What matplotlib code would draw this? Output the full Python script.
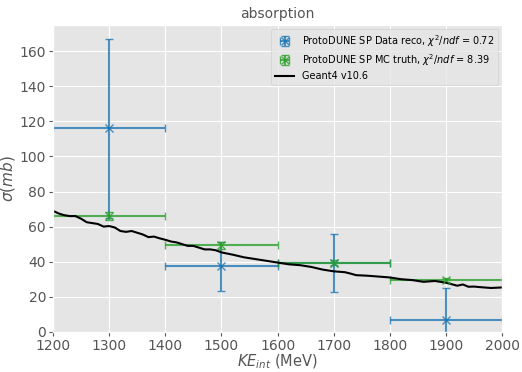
import numpy as np
import matplotlib
matplotlib.use("Agg")
import matplotlib.pyplot as plt

plt.style.use("ggplot")

# Measured cross section bins (MeV, mb)
ke_centers = [1300, 1500, 1700, 1900]
ke_halfwidth = [100, 100, 100, 100]

data_xs = [116, 37.5, 39, 7]
data_err = [51, 14, 16.5, 18]

mc_xs = [66, 49.5, 39.5, 29.5]
mc_err = [2.5, 2, 1.5, 1]

# Geant4 prediction
g4_ke = [1200, 1210, 1220, 1230, 1240, 1250, 1260, 1270, 1280, 1290, 1300,
         1310, 1320, 1330, 1340, 1350, 1360, 1370, 1380, 1390, 1400,
         1410, 1420, 1430, 1440, 1450, 1460, 1470, 1480, 1490, 1500,
         1520, 1540, 1560, 1580, 1600, 1620, 1640, 1660, 1680, 1700,
         1720, 1730, 1740, 1760, 1780, 1800, 1820, 1840, 1860, 1880,
         1900, 1920, 1930, 1940, 1950, 1960, 1980, 2000]
g4_xs = [69, 67.5, 66.5, 66, 66, 64.5, 62.5, 62, 61.5, 60, 60.3,
         59.5, 57.5, 57, 57.5, 56.5, 55.5, 54, 54.3, 53.3, 52.5,
         51.5, 51, 50, 49, 49, 48, 47, 47, 46.5, 45.3,
         44, 42.5, 41.5, 40.5, 39.5, 38.5, 38, 37, 35.5, 34.5,
         34, 33.2, 32.3, 32, 31.5, 31, 30, 29.5, 28.5, 29,
         28, 26.3, 27, 25.7, 25.8, 25.5, 25, 25.3]

fig, ax = plt.subplots(figsize=(5.22, 3.72), dpi=100)
fig.subplots_adjust(left=0.1015, right=0.962, top=0.933, bottom=0.108)

ax.errorbar(ke_centers, data_xs, xerr=ke_halfwidth, yerr=data_err,
            fmt="x", color="#1f77b4", alpha=0.8, capsize=3, markersize=6,
            label=r"ProtoDUNE SP Data reco, $\chi^2/ndf$ = 0.72")
ax.errorbar(ke_centers, mc_xs, xerr=ke_halfwidth, yerr=mc_err,
            fmt="x", color="#2ca02c", alpha=0.8, capsize=3, markersize=6,
            label=r"ProtoDUNE SP MC truth, $\chi^2/ndf$ = 8.39")
ax.plot(g4_ke, g4_xs, color="black", lw=1.5, label="Geant4 v10.6")

ax.set_xlim(1200, 2000)
ax.set_ylim(0, 175)
ax.tick_params(labelsize=10, length=3, pad=2)
ax.set_title("absorption", fontsize=10, color="#555555", pad=5)
ax.set_xlabel(r"$KE_{int}$ (MeV)", fontsize=10.5, labelpad=0)
ax.set_ylabel(r"$\sigma (mb)$", fontsize=11, labelpad=2)

handles, labels = ax.get_legend_handles_labels()
order = [1, 2, 0]
ax.legend([handles[i] for i in order], [labels[i] for i in order],
          fontsize=7, labelspacing=0.35, borderaxespad=0.4)

plt.savefig("out.png")
